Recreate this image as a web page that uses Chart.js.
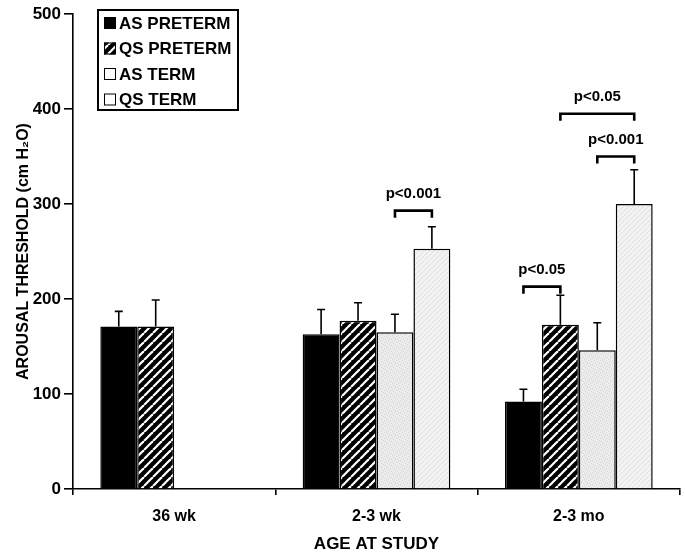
<!DOCTYPE html>
<html>
<head>
<meta charset="utf-8">
<script src="https://cdn.jsdelivr.net/npm/chart.js@4"></script>
<style>
  html, body { margin: 0; padding: 0; background: #fff; }
  #wrap { width: 685px; height: 555px; }
</style>
</head>
<body>
<div id="wrap"><canvas id="c" width="685" height="555"></canvas></div>
<script>
// ---- data ----
const categories = ["36 wk", "2-3 wk", "2-3 mo"];
const seriesLabels = ["AS PRETERM", "QS PRETERM", "AS TERM", "QS TERM"];
const asPreterm = [171, 163, 92];
const qsPreterm = [171, 177, 173];
const asTerm = [null, 165, 146];
const qsTerm = [null, 253, 300];
// upper end of error bars (mean + SE)
const asPretermErr = [187, 189, 105];
const qsPretermErr = [199, 196, 204];
const asTermErr = [null, 184, 175];
const qsTermErr = [null, 276, 336];
const yTicks = [0, 100, 200, 300, 400, 500];
// significance brackets: [category index, from series, to series, height, label]
const brackets = [
  [1, 2, 3, 293, "p<0.001"],
  [2, 0, 1, 213, "p<0.05"],
  [2, 2, 3, 350, "p<0.001"],
  [2, 1, 3, 395, "p<0.05"]
];

const FONT = "'Liberation Sans', Arial, Helvetica, sans-serif";

function makeCanvas(w, h) { const c = document.createElement('canvas'); c.width = w; c.height = h; return c; }
function hatch(bg, fg, size, lw) {
  const c = makeCanvas(size, size), x = c.getContext('2d');
  x.fillStyle = bg; x.fillRect(0, 0, size, size);
  x.strokeStyle = fg; x.lineWidth = lw;
  for (const o of [-size, 0, size]) {
    x.beginPath(); x.moveTo(o, size); x.lineTo(o + size, 0); x.stroke();
  }
  return x.createPattern(c, 'repeat');
}
function stipple() {
  const c = makeCanvas(6, 6), x = c.getContext('2d');
  x.fillStyle = '#ececec'; x.fillRect(0, 0, 6, 6);
  x.fillStyle = '#d4d4d4';
  [[0,0],[3,1],[1,3],[4,4],[2,5],[5,2]].forEach(p => x.fillRect(p[0], p[1], 1, 1));
  return x.createPattern(c, 'repeat');
}
const fills = [
  '#000000',
  hatch('#000000', '#ffffff', 9, 2.2),
  stipple(),
  hatch('#f3f3f3', '#dedede', 5, 1)
];
const seriesData = [asPreterm, qsPreterm, asTerm, qsTerm];
const seriesErr = [asPretermErr, qsPretermErr, asTermErr, qsTermErr];

const overlay = {
  id: 'overlay',
  afterDatasetsDraw(chart) {
    const ctx = chart.ctx, y = chart.scales.y;
    ctx.save();
    ctx.strokeStyle = '#000'; ctx.lineWidth = 1.6;
    seriesErr.forEach((errs, di) => {
      const meta = chart.getDatasetMeta(di);
      errs.forEach((e, i) => {
        if (e == null) return;
        const bar = meta.data[i];
        const yt = y.getPixelForValue(e);
        ctx.beginPath();
        ctx.moveTo(bar.x, bar.y); ctx.lineTo(bar.x, yt);
        ctx.moveTo(bar.x - 4, yt); ctx.lineTo(bar.x + 4, yt);
        ctx.stroke();
      });
    });
    // brackets
    ctx.lineWidth = 2.6;
    ctx.font = 'bold 15px ' + FONT;
    ctx.fillStyle = '#000';
    ctx.textAlign = 'center'; ctx.textBaseline = 'alphabetic';
    brackets.forEach(([ci, a, b, v, lab]) => {
      const x1 = chart.getDatasetMeta(a).data[ci].x;
      const x2 = chart.getDatasetMeta(b).data[ci].x;
      const yy = y.getPixelForValue(v);
      ctx.beginPath();
      ctx.moveTo(x1, yy + 7); ctx.lineTo(x1, yy); ctx.lineTo(x2, yy); ctx.lineTo(x2, yy + 7);
      ctx.stroke();
      ctx.fillText(lab, (x1 + x2) / 2, yy - 13);
    });
    ctx.restore();
  },
  afterDraw(chart) {
    const ctx = chart.ctx, ca = chart.chartArea;
    const bx = ca.left + 25, by = 10, bw = 140, bh = 100;
    ctx.save();
    ctx.fillStyle = '#fff'; ctx.fillRect(bx, by, bw, bh);
    ctx.strokeStyle = '#000'; ctx.lineWidth = 2;
    ctx.strokeRect(bx, by, bw, bh);
    ctx.font = 'bold 17px ' + FONT;
    ctx.textBaseline = 'middle'; ctx.textAlign = 'left';
    chart.data.datasets.forEach((ds, i) => {
      const cy = by + 13 + i * 25.5;
      const sx = bx + 6, s = 12;
      ctx.fillStyle = i < 2 ? ds.backgroundColor : '#fff';
      ctx.fillRect(sx, cy - s / 2, s, s);
      ctx.lineWidth = 1; ctx.strokeStyle = '#000';
      ctx.strokeRect(sx + 0.5, cy - s / 2 + 0.5, s - 1, s - 1);
      ctx.fillStyle = '#000';
      ctx.fillText(ds.label, bx + 21, cy + 1);
    });
    ctx.restore();
  }
};

new Chart(document.getElementById('c'), {
  type: 'bar',
  data: {
    labels: categories,
    datasets: seriesLabels.map((l, i) => ({
      label: l,
      data: seriesData[i],
      backgroundColor: fills[i],
      borderColor: '#000',
      borderWidth: 1.5,
      borderSkipped: 'bottom',
      categoryPercentage: 0.73,
      barPercentage: 1.0
    }))
  },
  options: {
    responsive: false,
    animation: false,
    events: [],
    layout: { padding: { top: 14, right: 5, left: 0, bottom: 0 } },
    plugins: { legend: { display: false }, tooltip: { enabled: false } },
    scales: {
      x: {
        afterFit: s => { s.height = 66; },
        border: { color: '#000', width: 1.6 },
        grid: { drawOnChartArea: false, drawTicks: true, tickLength: 6, color: '#000', lineWidth: 1.6, offset: true },
        ticks: { color: '#000', font: { family: FONT, size: 16, weight: 'bold' }, padding: 12 },
        title: { display: true, text: 'AGE AT STUDY', color: '#000', font: { family: FONT, size: 17, weight: 'bold' }, padding: { top: 6, bottom: 0 } }
      },
      y: {
        min: 0, max: 500,
        afterFit: s => { s.width = 73; },
        afterBuildTicks: s => { s.ticks = yTicks.map(v => ({ value: v })); },
        border: { color: '#000', width: 1.6 },
        grid: { drawOnChartArea: false, drawTicks: true, tickLength: 9, color: '#000', lineWidth: 1.6 },
        ticks: { color: '#000', font: { family: FONT, size: 17, weight: 'bold' }, padding: 3 },
        title: { display: true, text: 'AROUSAL THRESHOLD (cm H₂O)', color: '#000', font: { family: FONT, size: 16, weight: 'bold' }, padding: { top: 14, bottom: 0 } }
      }
    }
  },
  plugins: [overlay]
});
</script>
</body>
</html>
